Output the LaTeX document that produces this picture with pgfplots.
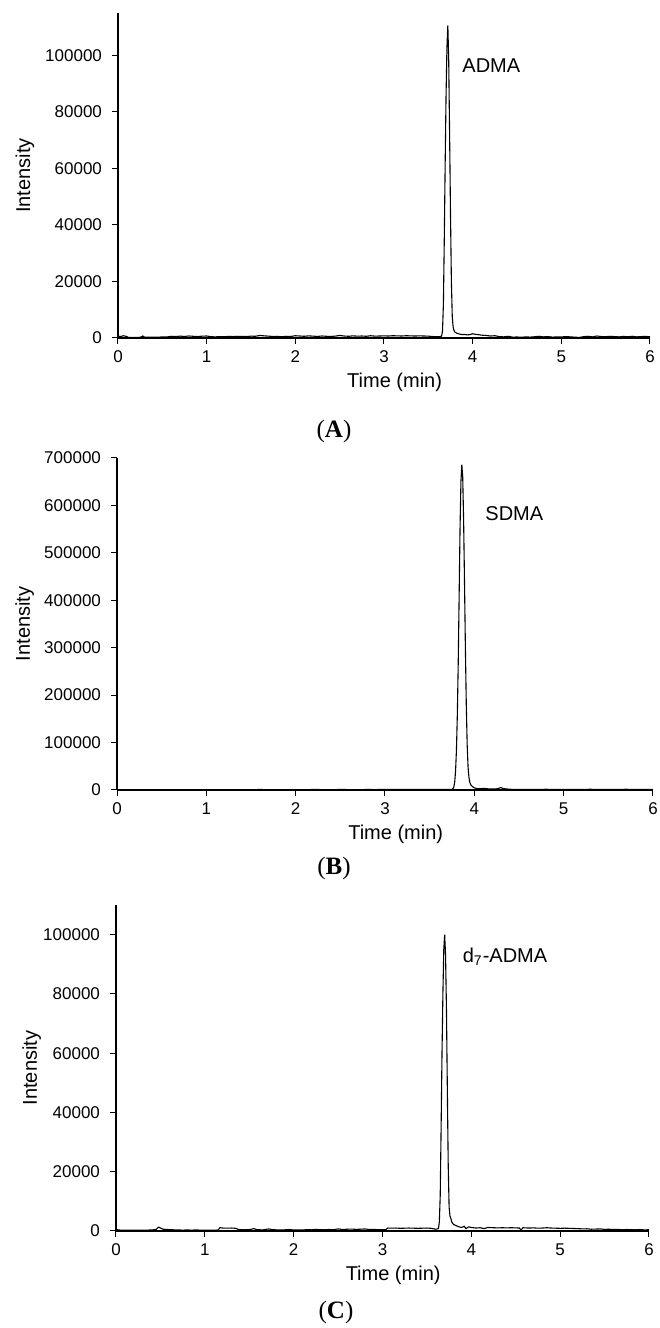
\documentclass[border=0pt]{standalone}
\usepackage{fontspec}
\setmainfont{Liberation Sans}
\newfontfamily\panelfont{Liberation Serif}
\usepackage{pgfplots}
\pgfplotsset{compat=1.18}

% common look of the three chromatograms
\pgfplotsset{
  chrom/.style={
    scale only axis,
    axis x line*=bottom, axis y line*=left,
    axis line style={line width=1pt, black},
    xmin=0, xmax=6, xtick={0,1,2,3,4,5,6},
    ymin=0,
    tick align=outside, major tick length=3pt,
    tick style={black, line width=0.5pt},
    scaled y ticks=false,
    /pgf/number format/assume math mode=true,
    yticklabel style={/pgf/number format/fixed, /pgf/number format/1000 sep={},
      font=\fontsize{8.5}{10}\selectfont, xshift=-1.5pt},
    xticklabel style={font=\fontsize{8.5}{10}\selectfont},
    xlabel={Time (min)}, ylabel={Intensity},
    xlabel style={at={(axis description cs:0.52,0)}, anchor=center, yshift=-22pt,
      font=\fontsize{10}{12}\selectfont},
    ylabel style={anchor=center, font=\fontsize{10}{12}\selectfont},
    clip=false,
  },
  trace/.style={black, line width=0.55pt, mark=none},
}
\tikzset{
  peaklabel/.style={anchor=west, inner sep=0pt, font=\fontsize{10}{12}\selectfont},
  panellabel/.style={font=\panelfont\fontsize{12.5}{14}\selectfont},
}

\begin{document}
\begin{tikzpicture}
\path[use as bounding box] (0,0) rectangle (329.5pt,664pt);

% ---------------- (A) ADMA ----------------
\begin{axis}[chrom, at={(59pt,495pt)}, anchor=south west,
  width=266pt, height=162.5pt,
  ylabel style={at={(axis description cs:-0.175,0.5)}},
  ymax=115000, ytick={0,20000,40000,60000,80000,100000}]
\addplot[trace] coordinates {
(0.00,700) (0.03,500) (0.06,800) (0.09,600) (0.12,200) (0.16,150) (0.20,200)
(0.25,250) (0.28,700) (0.30,300) (0.35,250) (0.40,300) (0.45,250) (0.50,400)
(0.55,350) (0.60,600) (0.65,500) (0.70,650) (0.75,550) (0.80,700) (0.85,600)
(0.90,500) (0.95,650) (1.00,700) (1.05,450) (1.10,400) (1.15,500) (1.20,450)
(1.25,550) (1.30,500) (1.35,600) (1.40,550) (1.45,500) (1.50,650) (1.55,600)
(1.60,900) (1.65,750) (1.70,650) (1.75,500) (1.80,550) (1.85,450) (1.90,600)
(1.95,550) (2.00,800) (2.05,700) (2.10,600) (2.15,750) (2.20,650) (2.25,550)
(2.30,700) (2.35,600) (2.40,550) (2.45,650) (2.50,900) (2.55,700) (2.60,600)
(2.65,750) (2.70,650) (2.75,700) (2.80,600) (2.85,800) (2.90,650) (2.95,700)
(3.00,750) (3.05,700) (3.10,800) (3.15,750) (3.20,700) (3.25,800) (3.30,750)
(3.35,700) (3.40,750) (3.45,700) (3.50,650) (3.55,500) (3.60,450) (3.63,450)
(3.65,700) (3.66,2500) (3.67,12000) (3.68,35000) (3.69,62000) (3.70,86000)
(3.71,103000) (3.72,110600) (3.73,98000) (3.74,72000) (3.75,44000) (3.76,20000)
(3.77,7500) (3.78,3800) (3.79,2600) (3.80,2100) (3.82,1700) (3.85,1400)
(3.88,1200) (3.91,1250) (3.94,1100) (3.97,1200) (4.00,1500) (4.03,1300)
(4.06,1200) (4.10,1000) (4.15,900) (4.20,700) (4.25,800) (4.30,500) (4.35,400)
(4.40,600) (4.45,300) (4.50,350) (4.55,250) (4.60,400) (4.65,300) (4.70,450)
(4.75,600) (4.80,400) (4.85,500) (4.90,300) (4.95,400) (5.00,350) (5.05,500)
(5.10,400) (5.15,300) (5.20,200) (5.25,450) (5.30,600) (5.35,400) (5.40,700)
(5.45,500) (5.50,450) (5.55,600) (5.60,500) (5.65,400) (5.70,550) (5.75,450)
(5.80,600) (5.85,400) (5.90,500) (5.95,550) (6.00,450)
};
\node[peaklabel] at (axis cs:3.88,96500) {ADMA};
\end{axis}

% ---------------- (B) SDMA ----------------
\begin{axis}[chrom, at={(58.5pt,269pt)}, anchor=south west,
  width=268pt, height=166pt,
  ylabel style={at={(axis description cs:-0.172,0.5)}},
  ymax=700000, ytick={0,100000,200000,300000,400000,500000,600000,700000}]
\addplot[trace] coordinates {
(0.00,300) (0.20,200) (0.40,300) (0.60,250) (0.80,300) (1.00,250) (1.10,600)
(1.20,900) (1.30,700) (1.40,900) (1.50,800) (1.60,1000) (1.70,800) (1.80,900)
(1.90,700) (2.00,900) (2.10,800) (2.20,1000) (2.30,900) (2.40,800) (2.50,1000)
(2.60,900) (2.70,800) (2.80,1000) (2.90,900) (3.00,1100) (3.10,1300) (3.20,1200)
(3.30,1400) (3.40,1200) (3.50,1300) (3.60,1100) (3.70,1000) (3.74,1000)
(3.76,2500) (3.77,6000) (3.78,16000) (3.79,40000) (3.80,85000) (3.81,160000)
(3.82,270000) (3.83,410000) (3.84,550000) (3.85,650000) (3.86,686000)
(3.87,660000) (3.88,570000) (3.89,440000) (3.90,300000) (3.91,180000)
(3.92,95000) (3.93,48000) (3.94,26000) (3.95,16000) (3.96,11000) (3.98,7000)
(4.00,4500) (4.03,3000) (4.06,2500) (4.10,3500) (4.15,2500) (4.20,2000)
(4.25,2500) (4.28,4000) (4.30,5000) (4.32,3000) (4.40,1500) (4.50,1200)
(4.60,1400) (4.70,1200) (4.80,1500) (4.90,1300) (5.00,1200) (5.10,1400)
(5.20,1300) (5.30,1500) (5.40,1200) (5.50,1400) (5.60,1300) (5.70,1500)
(5.80,1200) (5.90,1400) (6.00,1300)
};
\node[peaklabel] at (axis cs:4.12,582000) {SDMA};
\end{axis}

% ---------------- (C) d7-ADMA ----------------
\begin{axis}[chrom, at={(58pt,48.5pt)}, anchor=south west,
  width=266.5pt, height=163pt,
  ylabel style={at={(axis description cs:-0.158,0.5)}},
  ymax=110000, ytick={0,20000,40000,60000,80000,100000}]
\addplot[trace] coordinates {
(0.00,600) (0.02,400) (0.05,300) (0.10,250) (0.15,300) (0.20,250) (0.25,300)
(0.30,250) (0.35,300) (0.40,350) (0.45,500) (0.48,1300) (0.50,1000) (0.53,600)
(0.58,500) (0.65,400) (0.70,350) (0.75,300) (0.80,350) (0.85,300) (0.90,350)
(0.95,300) (1.00,250) (1.05,300) (1.10,250) (1.15,350) (1.17,1100) (1.20,1000)
(1.25,950) (1.30,1000) (1.35,900) (1.38,500) (1.45,400) (1.50,450) (1.55,800)
(1.58,500) (1.65,350) (1.72,700) (1.75,500) (1.80,400) (1.85,350) (1.90,400)
(1.95,500) (2.00,350) (2.05,400) (2.10,350) (2.15,450) (2.20,400) (2.25,550)
(2.30,450) (2.35,400) (2.40,500) (2.45,450) (2.50,700) (2.55,500) (2.60,600)
(2.65,650) (2.70,550) (2.75,600) (2.80,700) (2.85,500) (2.90,550) (2.95,450)
(3.00,400) (3.04,500) (3.06,1000) (3.10,950) (3.15,1000) (3.20,900) (3.25,950)
(3.30,1000) (3.35,950) (3.40,900) (3.45,950) (3.50,1000) (3.55,900) (3.58,700)
(3.60,600) (3.63,800) (3.64,3000) (3.65,12000) (3.66,35000) (3.67,60000)
(3.68,80000) (3.69,95000) (3.70,100000) (3.71,93000) (3.72,75000) (3.73,48000)
(3.74,22000) (3.75,8000) (3.76,5000) (3.77,4200) (3.78,3000) (3.80,2200)
(3.83,1800) (3.86,1400) (3.89,1200) (3.92,1600) (3.94,800) (3.97,1400)
(4.00,1200) (4.05,1000) (4.10,1100) (4.15,800) (4.18,1200) (4.25,1100)
(4.30,1050) (4.35,1100) (4.40,1050) (4.45,1100) (4.50,1050) (4.54,1000)
(4.56,300) (4.58,1100) (4.65,1000) (4.70,1050) (4.75,950) (4.80,1000)
(4.85,1100) (4.90,1000) (4.95,950) (5.00,900) (5.05,950) (5.10,900) (5.15,850)
(5.20,800) (5.25,700) (5.30,750) (5.35,600) (5.40,650) (5.45,700) (5.50,550)
(5.55,600) (5.60,500) (5.65,550) (5.70,400) (5.75,500) (5.80,450) (5.85,400)
(5.90,500) (5.95,350) (6.00,450)
};
\node[peaklabel] at (axis cs:3.90,92500) {d\textsubscript{7}-ADMA};
\end{axis}

% panel captions
\node[panellabel] at (167pt,448.5pt) {(\textbf{A})};
\node[panellabel] at (167pt,230pt) {(\textbf{B})};
\node[panellabel] at (168pt,8pt) {(\textbf{C})};
\end{tikzpicture}
\end{document}
